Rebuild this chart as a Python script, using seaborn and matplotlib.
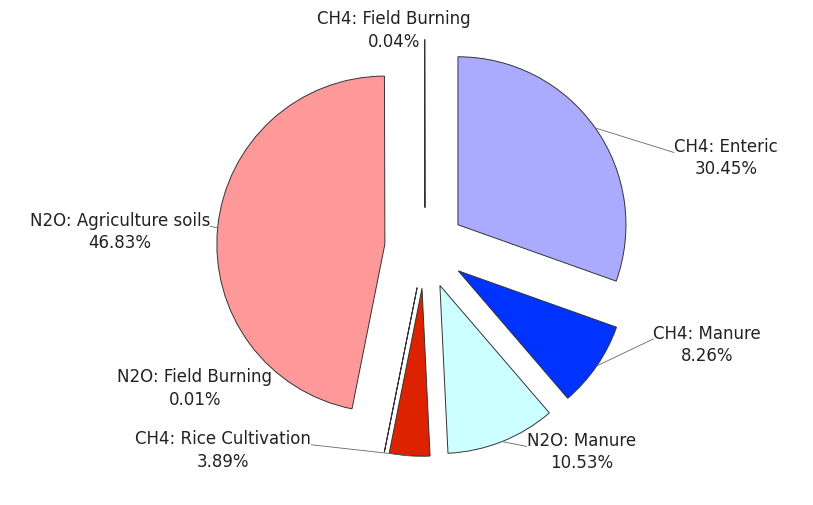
import numpy as np
import matplotlib
matplotlib.use("Agg")
import matplotlib.pyplot as plt
import seaborn as sns

# ข้อมูลสัดส่วนการปล่อยก๊าซจากภาคเกษตร (เรียงตามเข็มนาฬิกาจากด้านบน)
categories = ["CH4: Enteric", "CH4: Manure", "N2O: Manure",
              "CH4: Rice Cultivation", "N2O: Field Burning",
              "N2O: Agriculture soils", "CH4: Field Burning"]
shares = [30.45, 8.26, 10.53, 3.89, 0.01, 46.83, 0.04]
colors = ["#aaaaff", "#0033ff", "#ccffff", "#dd2200", "#ffffff",
          "#ff9999", "#ffffff"]

# ตำแหน่งป้าย (หน่วยรัศมี) และว่ามีเส้นชี้หรือไม่
label_pos = [(1.79, 0.54), (1.68, -0.57), (0.93, -1.21), (-1.20, -1.20),
             (-1.37, -0.83), (-1.815, 0.10), (-0.185, 1.30)]
leader = [True, True, True, True, False, True, False]
EXPLODE = 0.24

sns.set_style("white")
plt.rcParams["font.family"] = ["DejaVu Sans"]

fig = plt.figure(figsize=(8.13, 5.06), dpi=100)
ax = fig.add_axes([0, 0, 1, 1])

wedges, _ = ax.pie(shares, colors=colors, startangle=90, counterclock=False,
                   explode=[EXPLODE] * len(shares), radius=1.0,
                   wedgeprops=dict(edgecolor="#333333", linewidth=0.7))

ax.set_aspect("equal")
ax.set_xlim(-425 / 168, (813 - 425) / 168)
ax.set_ylim(-(506 - 249) / 168, 249 / 168)
ax.axis("off")

for w, name, val, (tx, ty), has_line in zip(wedges, categories, shares,
                                             label_pos, leader):
    mid = np.deg2rad((w.theta1 + w.theta2) / 2)
    cx, cy = w.center
    px, py = cx + np.cos(mid), cy + np.sin(mid)
    t = ax.text(tx, ty, f"{name}\n{val:.2f}%", ha="center", va="center",
                fontsize=12, color="#222222", linespacing=1.3)
    if has_line:
        # ปลายเส้นชี้อยู่ที่ขอบข้อความด้านที่ใกล้ชิ้นพาย
        fig.canvas.draw()
        bb = t.get_window_extent().transformed(ax.transData.inverted())
        ex = bb.x0 if tx > px else bb.x1
        ey = bb.y0 + (bb.y1 - bb.y0) * 0.62
        ax.plot([px, ex], [py, ey], color="#666666", lw=0.6, ls="-")

fig.savefig("out.png", dpi=100, facecolor="white")
